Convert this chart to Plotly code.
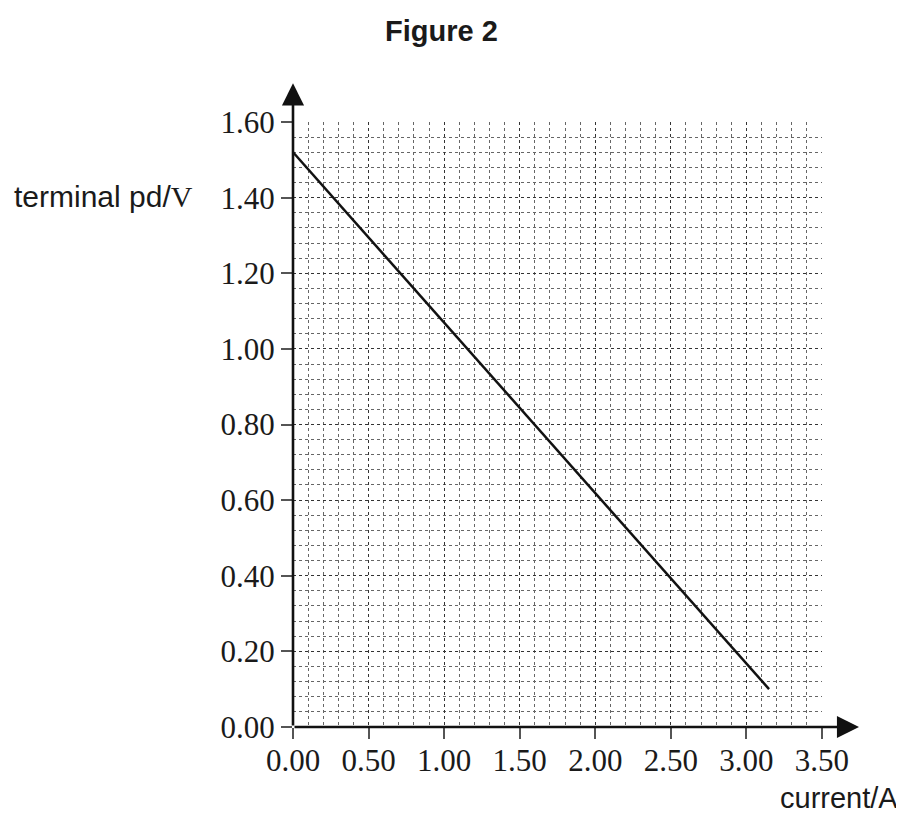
import plotly.graph_objects as go

# Data
current_A = [0.00, 3.15]
terminal_pd_V = [1.52, 0.10]

x_ticks = [0.0, 0.5, 1.0, 1.5, 2.0, 2.5, 3.0, 3.5]
y_ticks = [0.0, 0.2, 0.4, 0.6, 0.8, 1.0, 1.2, 1.4, 1.6]

fig = go.Figure()
fig.add_trace(go.Scatter(
    x=current_A, y=terminal_pd_V, mode="lines",
    line=dict(color="#111111", width=2.5), showlegend=False, hoverinfo="skip",
))

tickfont = dict(family="Liberation Serif", size=31, color="#1a1a1a")

fig.update_xaxes(
    range=[-0.0005, 3.5005], tickvals=x_ticks, ticktext=[f"{v:.2f}" for v in x_ticks],
    ticks="outside", ticklen=11, tickwidth=2, tickcolor="#555555",
    tickfont=tickfont, showline=False, zeroline=False, ticklabelstandoff=-5,
    showgrid=True, gridcolor="#333333", gridwidth=1.3, griddash="dot",
    minor=dict(dtick=0.1, showgrid=True, gridcolor="#666666", gridwidth=1, griddash="dot", ticks=""),
    fixedrange=True,
)
fig.update_yaxes(
    range=[-0.0002, 1.6002], tickvals=y_ticks, ticktext=[f"{v:.2f}" for v in y_ticks],
    ticks="outside", ticklen=11, tickwidth=2, tickcolor="#555555",
    tickfont=tickfont, showline=False, zeroline=False,
    showgrid=True, gridcolor="#333333", gridwidth=1.3, griddash="dot",
    minor=dict(dtick=0.04, showgrid=True, gridcolor="#666666", gridwidth=1, griddash="dot", ticks=""),
    fixedrange=True,
)

# Axis lines with arrowheads
fig.add_annotation(x=0, y=1.064, xref="x domain", yref="y domain",
                   ax=0, ay=0, axref="x domain", ayref="y domain",
                   text="", showarrow=True, arrowhead=2, arrowsize=1.7,
                   arrowwidth=2.6, arrowcolor="#111111")
fig.add_annotation(x=1.07, y=0, xref="x domain", yref="y domain",
                   ax=0, ay=0, axref="x domain", ayref="y domain",
                   text="", showarrow=True, arrowhead=2, arrowsize=1.7,
                   arrowwidth=2.6, arrowcolor="#111111")

# Labels
fig.add_annotation(x=-0.531, y=0.877, xref="paper", yref="paper",
                   xanchor="left", yanchor="middle", showarrow=False,
                   text="terminal pd/<span style='font-family:Liberation Serif'>V</span>",
                   font=dict(family="Liberation Sans", size=30, color="#1a1a1a"))
fig.add_annotation(x=(900 - 293) / 529, y=(726.7 - 798) / 605, xref="paper", yref="paper",
                   xanchor="right", yanchor="middle", showarrow=False,
                   text="current/A",
                   font=dict(family="Liberation Sans", size=29, color="#1a1a1a"))
fig.add_annotation(x=(441 - 293) / 529, y=(726.7 - 31) / 605, xref="paper", yref="paper",
                   xanchor="center", yanchor="middle", showarrow=False,
                   text="<b>Figure 2</b>",
                   font=dict(family="Liberation Sans", size=29, color="#1a1a1a"))

fig.update_layout(
    width=896, height=808,
    margin=dict(l=285, r=82, t=114, b=89, pad=0),
    paper_bgcolor="white", plot_bgcolor="white",
)

fig.write_html("out.html")
